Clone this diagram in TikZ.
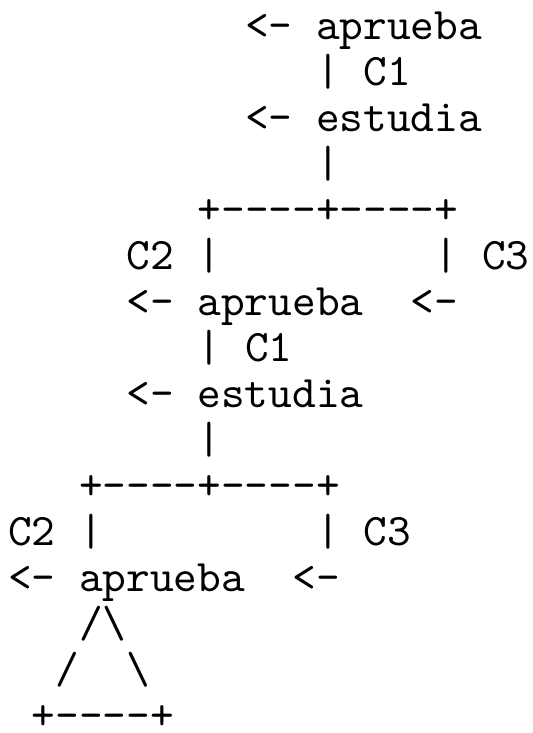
\documentclass[tikz,border=0pt]{standalone}
\usepackage{tikz}
\begin{document}
\begin{tikzpicture}[x=23.7pt, y=-45.97pt,
    txt/.style={anchor=base west, inner sep=0pt, outer sep=0pt,
      font=\ttfamily\fontsize{10pt}{12pt}\selectfont, scale=4.514, transform shape}]
    \useasboundingbox (-0.3376, -0.870) rectangle (22.11, 15.075);
    % Top level
    \node [txt] (ap1) at (10, 0) {<- aprueba};
    \node [txt] (cu1) at (13, 1) {| C1};
    \node [txt] (es1) at (10, 2) {<- estudia};
    \node [txt] (st1) at (13, 3) {|};
    \node [txt] (br1) at (8, 4) {+----+----+};
    \node [txt] (cd1) at (5, 5) {C2 |};
    \node [txt] (ct1) at (18, 5) {| C3};
    % Second level
    \node [txt] (ap2) at (5, 6) {<- aprueba};
    \node [txt] (ar2) at (17, 6) {<-};
    \node [txt] (cu2) at (8, 7) {| C1};
    \node [txt] (es2) at (5, 8) {<- estudia};
    \node [txt] (st2) at (8, 9) {|};
    \node [txt] (br2) at (3, 10) {+----+----+};
    \node [txt] (cd2) at (0, 11) {C2 |};
    \node [txt] (ct2) at (13, 11) {| C3};
    % Third level
    \node [txt] (ap3) at (0, 12) {<- aprueba};
    \node [txt] (ar3) at (12, 12) {<-};
    % Triangle
    \node [txt] (tp) at (3, 13) {/\textbackslash};
    \node [txt] (tl) at (2, 14) {/};
    \node [txt] (tr) at (5, 14) {\textbackslash};
    \node [txt] (tb) at (1, 15) {+----+};
\end{tikzpicture}
\end{document}
